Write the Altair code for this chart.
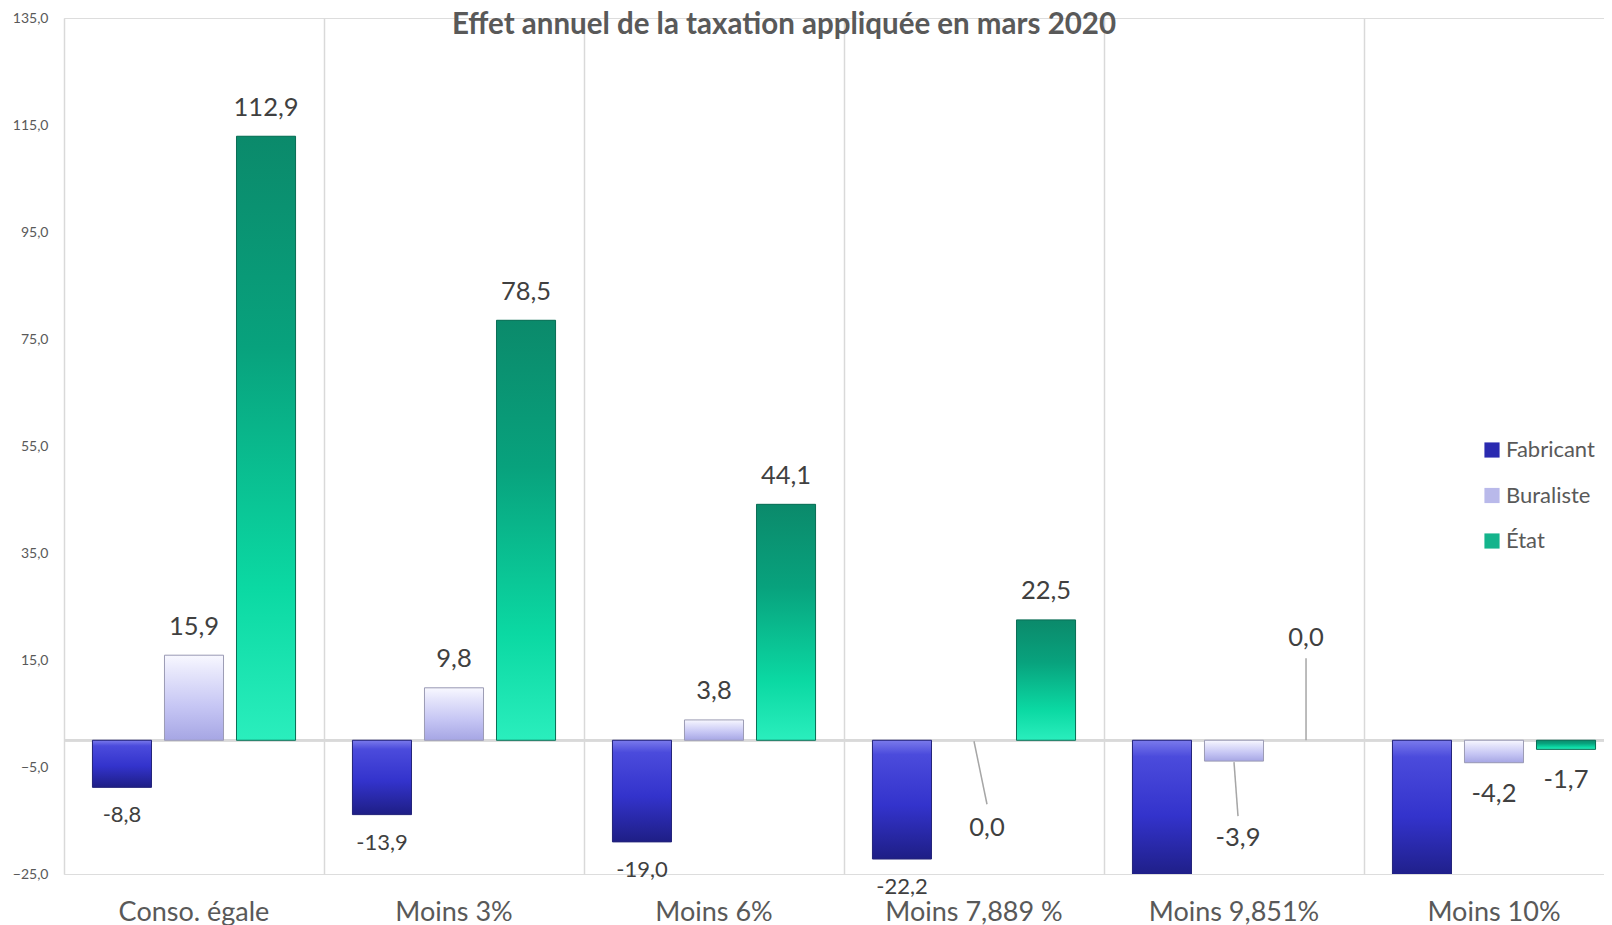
import altair as alt
import pandas as pd

categories = ["Conso. égale", "Moins 3%", "Moins 6%", "Moins 7,889 %", "Moins 9,851%", "Moins 10%"]
series = ["Fabricant", "Buraliste", "État"]
fabricant = [-8.8, -13.9, -19.0, -22.2, -25.6, -26.0]
buraliste = [15.9, 9.8, 3.8, 0.0, -3.9, -4.2]
etat = [112.9, 78.5, 44.1, 22.5, 0.0, -1.7]
y_ticks = [-25, -5, 15, 35, 55, 75, 95, 115, 135]

rows = []
for i, c in enumerate(categories):
    for s, vals in zip(series, [fabricant, buraliste, etat]):
        v = vals[i]
        rows.append({"cat": c, "series": s, "value": v,
                     "label": f"{v:.1f}".replace(".", ","),
                     "key": f"{c}|{s}"})
df = pd.DataFrame(rows)

GRAY = "#595959"
FONT = "Lato"

X = alt.X("cat:N",
          scale=alt.Scale(domain=categories, range=[0, 1560], paddingInner=0, paddingOuter=0),
          axis=alt.Axis(title=None, grid=True, bandPosition=0, gridColor="#d9d9d9", gridWidth=1.5,
                        domain=False, ticks=False, tickSize=0, labelFontSize=27, labelColor=GRAY,
                        labelPadding=25, labelAngle=0, labelFont=FONT))
XO = alt.XOffset("series:N", scale=alt.Scale(domain=series, paddingInner=0.18, paddingOuter=0.395))
Y = alt.Y("value:Q",
          scale=alt.Scale(domain=[-25, 135], nice=False),
          axis=alt.Axis(title=None, values=y_ticks,
                        labelExpr="replace(format(datum.value, '.1f'), '.', ',')",
                        grid=False, domain=False, ticks=False, tickSize=0, labelPadding=16,
                        labelFontSize=14, labelColor=GRAY, labelFont=FONT))

def grad(stops):
    return alt.Gradient(gradient="linear", x1=0, x2=0, y1=0, y2=1,
                        stops=[alt.GradientStop(color=c, offset=o) for o, c in stops])

grads = {
    "Fabricant": (grad([(0, "#7a7aec"), (0.12, "#4b4bdc"), (0.55, "#3333cc"), (1, "#1e1e85")]), "#25257a"),
    "Buraliste": (grad([(0, "#f8f8ff"), (0.2, "#e6e6fb"), (0.6, "#c6c6f4"), (1, "#a6a6e4")]), "#9c9cb4"),
    "État": (grad([(0, "#0b8a6b"), (0.35, "#08a27d"), (0.75, "#0bd9a3"), (1, "#2aeebd")]), "#0b6e55"),
}

base = alt.Chart(df)

zero_line = base.mark_rule(color="#d9d9d9", strokeWidth=2).encode(y=alt.datum(0))

legend_bars = base.transform_filter("datum.value != 0").mark_bar(clip=True).encode(
    x=X, xOffset=XO, y=Y,
    color=alt.Color("series:N",
                    scale=alt.Scale(domain=series, range=["#2a2ab0", "#b9b9ea", "#14b48c"]),
                    legend=alt.Legend(orient="none", legendX=1417, legendY=421, title=None,
                                      symbolType="square", symbolSize=230, labelFontSize=22,
                                      labelColor=GRAY, labelFont=FONT, rowPadding=23.5,
                                      labelOffset=3, symbolStrokeWidth=0)))

grad_layers = []
for s in series:
    g, st = grads[s]
    grad_layers.append(
        base.transform_filter(alt.datum.series == s).transform_filter("datum.value != 0")
        .mark_bar(clip=True, fill=g, stroke=st, strokeWidth=1)
        .encode(x=X, xOffset=XO, y=Y))

special = ["Moins 7,889 %|Buraliste", "Moins 9,851%|Buraliste", "Moins 9,851%|État"]
not_special = " && ".join([f"datum.key != '{k}'" for k in special])

def text_layer(filt, dy, size, dx=0):
    return (base.transform_filter(filt)
            .mark_text(font=FONT, fontSize=size, color="#404040", baseline="middle", dy=dy, dx=dx)
            .encode(x=X, xOffset=XO, y=Y, text="label:N"))

labels = [
    text_layer(f"datum.value > 0 && {not_special}", -28.5, 25.5),
    text_layer("datum.series == 'Fabricant' && datum.value < 0 && datum.value >= -25", 28, 22),
    text_layer(f"datum.series != 'Fabricant' && datum.value < 0 && {not_special}", 31, 25.5),
    text_layer(f"datum.key == '{special[0]}'", 88, 25.5, dx=13),
    text_layer(f"datum.key == '{special[1]}'", 77, 25.5, dx=4),
    text_layer(f"datum.key == '{special[2]}'", -102.5, 25.5),
]

def slanted_leader(key, x2o, y1o, y2o):
    # Buraliste bars sit at the category centre, so x2 (category centre) lines up with them
    return (base.transform_filter(f"datum.key == '{key}'")
            .mark_rule(color="#a6a6a6", strokeWidth=1.5, yOffset=y1o, x2Offset=x2o, y2Offset=y2o)
            .encode(x=X, x2=alt.X2("cat:N"), xOffset=XO, y=Y, y2=alt.Y2("value:Q")))

def vertical_leader(key, y1o, y2o):
    return (base.transform_filter(f"datum.key == '{key}'")
            .mark_rule(color="#a6a6a6", strokeWidth=1.5, yOffset=y1o, y2Offset=y2o)
            .encode(x=X, xOffset=XO, y=Y, y2=alt.Y2("value:Q")))

leaders = [
    slanted_leader(special[0], 13, 1, 64),
    slanted_leader(special[1], 4, 1, 55),
    vertical_leader(special[2], 0, -82),
]

chart = alt.layer(zero_line, legend_bars, *grad_layers, *leaders, *labels).properties(
    width=1540, height=856,
    autosize=alt.AutoSizeParams(type="none"),
    padding={"left": 56, "top": 10, "right": 0, "bottom": 62},
    title=alt.TitleParams("Effet annuel de la taxation appliquée en mars 2020", fontSize=29.5,
                          fontWeight="bold", color=GRAY, font=FONT, anchor="middle",
                          offset=-29, dx=-50),
).configure_view(stroke=None).configure(font=FONT)

chart.save("out.html", embed_options={"renderer": "svg", "actions": False})
